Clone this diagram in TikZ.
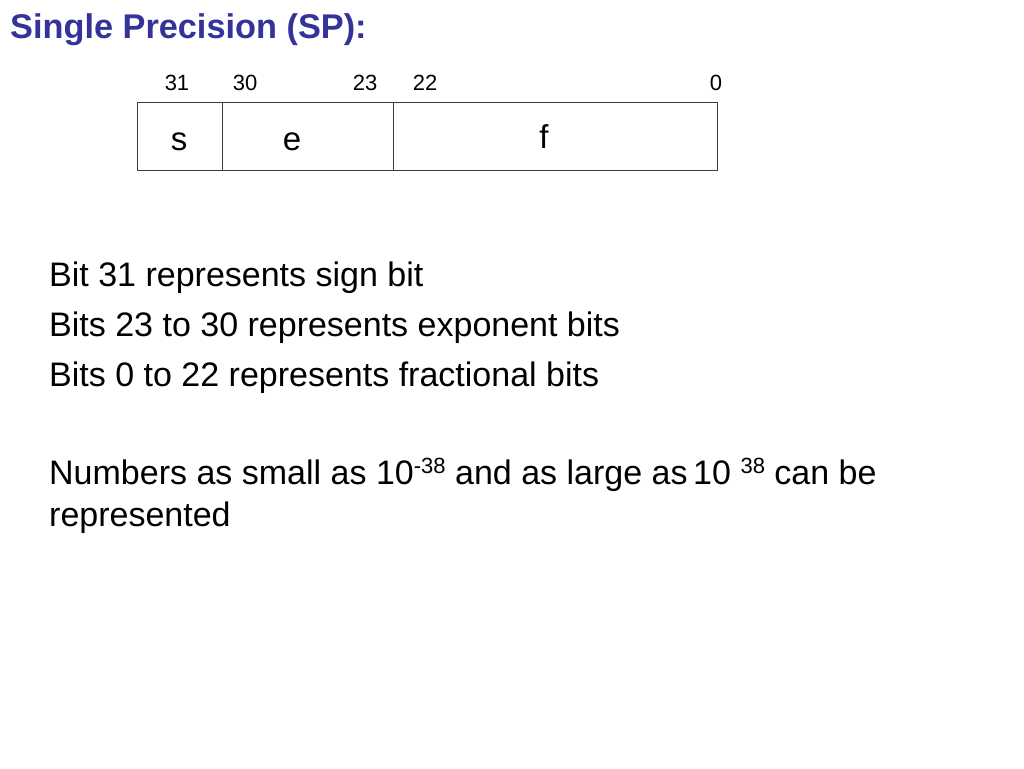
\documentclass[tikz,border=0pt]{standalone}
\usepackage{fontspec}
\setmainfont{Liberation Sans}
\definecolor{titleblue}{RGB}{51,51,153}
\definecolor{edge}{RGB}{60,60,60}
\tikzset{
  cell/.style={draw=edge, line width=1pt, inner sep=0pt, anchor=north west, minimum height=68pt},
  bitnum/.style={inner sep=0pt, anchor=base, font=\fontsize{22}{26}\selectfont},
  field/.style={inner sep=0pt, anchor=base, font=\fontsize{33}{38}\selectfont},
  body/.style={inner sep=0pt, anchor=base west, font=\fontsize{34}{40}\selectfont},
}
\newcommand{\supnum}[1]{\raisebox{11pt}{\fontsize{22}{22}\selectfont #1}}
\begin{document}
\begin{tikzpicture}[x=1pt,y=-1pt]
\useasboundingbox (0,0) rectangle (1024,768);
\fill[white] (0,0) rectangle (1024,768);
\node[inner sep=0pt, anchor=base west, text=titleblue, font=\bfseries\fontsize{34.3}{40}\selectfont] (title) at (10,38) {Single Precision (SP):};
% register cells
\node[cell, minimum width=85pt] (s) at (137,102) {};
\node[cell, minimum width=171pt] (e) at (222,102) {};
\node[cell, minimum width=324pt] (f) at (393,102) {};
\node[field] (sl) at (179,150) {s};
\node[field] (el) at (292,150) {e};
\node[field] (fl) at (544,148) {f};
% bit numbers
\node[bitnum] (b31) at (177,90) {31};
\node[bitnum] (b30) at (245,90) {30};
\node[bitnum] (b23) at (365,90) {23};
\node[bitnum] (b22) at (425,90) {22};
\node[bitnum] (b0) at (716,90) {0};
% body text
\node[body] (l1) at (49,286) {Bit 31 represents sign bit};
\node[body] (l2) at (49,336) {Bits 23 to 30 represents exponent bits};
\node[body] (l3) at (49,386) {Bits 0 to 22 represents fractional bits};
\node[body] (l4) at (49,484) {Numbers as small as 10\supnum{-38} and as large as\,10 \supnum{38} can be};
\node[body] (l5) at (49,526) {represented};
\end{tikzpicture}
\end{document}
